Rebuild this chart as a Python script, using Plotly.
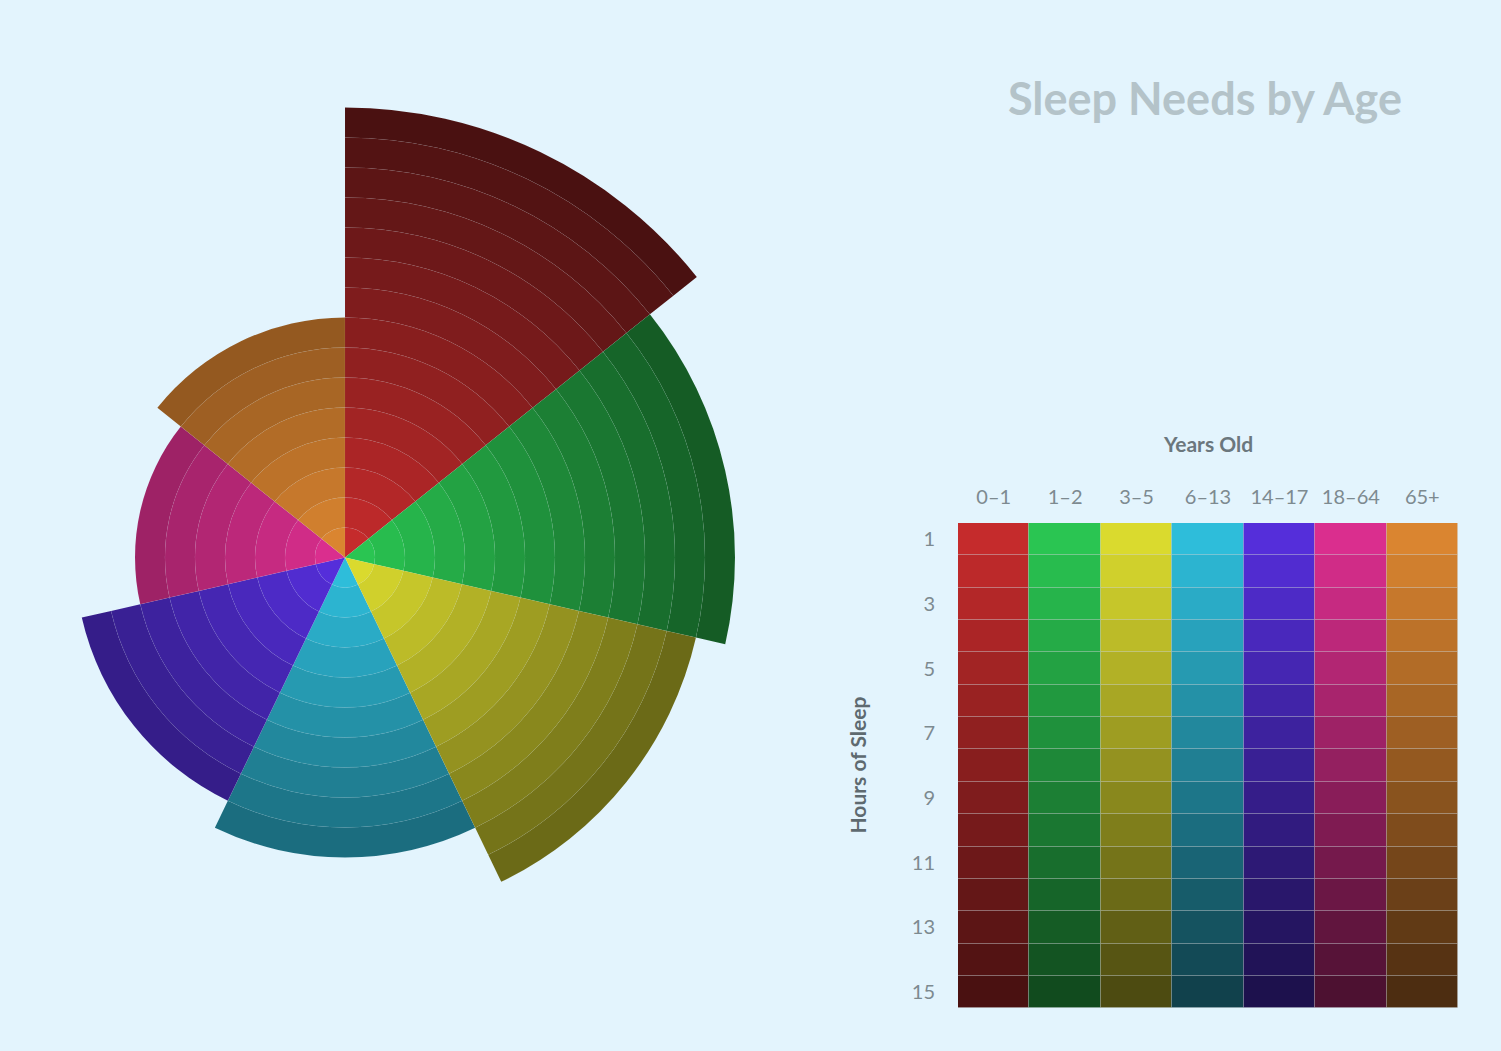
import plotly.graph_objects as go

# ---- data ----
age_groups = ["0–1", "1–2", "3–5", "6–13", "14–17", "18–64", "65+"]
sleep_hours = [15, 13, 12, 10, 9, 7, 8]
hours = list(range(1, 16))
hour_ticks = [1, 3, 5, 7, 9, 11, 13, 15]

# ---- styling ----
light_colors = ["#C52B2C", "#2AC552", "#DADA2E", "#2EBDDA", "#552EDA", "#DA2E8E", "#DA8530"]
dark_colors = ["#4A1111", "#114B1E", "#4D4B11", "#11414C", "#1D114D", "#4D1131", "#4D2D11"]
BG = "#E3F4FD"
FONT = "Lato"
RING_LINE = dict(color="rgba(255,255,255,0.08)", width=0.5)
CELL_LINE = dict(color="rgba(200,200,200,0.22)", width=1)


def hex2rgb(h):
    h = h.lstrip("#")
    return [int(h[i:i + 2], 16) for i in (0, 2, 4)]


def shade(i, h):
    a = hex2rgb(light_colors[i])
    b = hex2rgb(dark_colors[i])
    t = (h - 1) / (len(hours) - 1)
    c = [round(a[k] + (b[k] - a[k]) * t) for k in range(3)]
    return "rgb({},{},{})".format(*c)


# geometry (pixels)
W, H = 1501, 1051
cx, cy = 345, 557.5
px_per_hour = 30
small_r = 345                       # full-circle polar radius
small_max = small_r / px_per_hour   # 11.5 hours
big_max = 15.3
big_r = big_max * px_per_hour       # sector polar radius

# the sector polar holds the long wedges (they need more room than the full circle allows)
sector = [-70, 95]
import math
bx0 = min(0, math.cos(math.radians(sector[1])))
by0 = min(0, math.sin(math.radians(sector[0])))
big_dom_x = [(cx + bx0 * big_r) / W, (cx + big_r) / W]
big_dom_y = [1 - (cy - by0 * big_r) / H, 1 - (cy - big_r) / H]
small_dom_x = [(cx - small_r) / W, (cx + small_r) / W]
small_dom_y = [1 - (cy + small_r) / H, 1 - (cy - small_r) / H]

fig = go.Figure()

for h in hours:
    colors = [shade(i, h) for i in range(len(age_groups))]
    fig.add_trace(go.Barpolar(
        r=[1 if (h <= v and v <= small_max) else 0 for v in sleep_hours],
        theta=age_groups, subplot="polar",
        marker=dict(color=colors, line=RING_LINE),
        showlegend=False,
        hovertemplate="%{theta}: hour " + str(h) + "<extra></extra>",
    ))
    fig.add_trace(go.Barpolar(
        r=[1 if (h <= v and v > small_max) else 0 for v in sleep_hours],
        theta=age_groups, subplot="polar2",
        marker=dict(color=colors, line=RING_LINE),
        showlegend=False,
        hovertemplate="%{theta}: hour " + str(h) + "<extra></extra>",
    ))

# colour grid
for h in hours:
    fig.add_trace(go.Bar(
        x=age_groups, y=[1] * len(age_groups), base=[h - 0.5] * len(age_groups),
        marker=dict(color=[shade(i, h) for i in range(len(age_groups))], line=CELL_LINE),
        showlegend=False,
        hovertemplate="%{x}: hour " + str(h) + "<extra></extra>",
    ))

ang = dict(direction="clockwise", rotation=90 - 360 / 14, visible=False,
           categoryorder="array", categoryarray=age_groups)

fig.update_layout(
    width=W, height=H, margin=dict(l=0, r=0, t=0, b=0),
    paper_bgcolor=BG, plot_bgcolor="rgba(0,0,0,0)",
    font=dict(family=FONT, color="#7D8A90"),
    barmode="overlay", bargap=0,
    polar=dict(
        domain=dict(x=small_dom_x, y=small_dom_y),
        bgcolor="rgba(0,0,0,0)", barmode="stack", bargap=0,
        angularaxis=ang,
        radialaxis=dict(range=[0, small_max], visible=False),
    ),
    polar2=dict(
        domain=dict(x=big_dom_x, y=big_dom_y), sector=sector,
        bgcolor="rgba(0,0,0,0)", barmode="stack", bargap=0,
        angularaxis=ang,
        radialaxis=dict(range=[0, big_max], visible=False),
    ),
    xaxis=dict(domain=[958 / W, 1458 / W], side="top", range=[-0.5, 6.5],
               showgrid=False, zeroline=False, showline=False, ticks="",
               tickfont=dict(size=20, color="#7D8A90"), ticklabelstandoff=14,
               fixedrange=True),
    yaxis=dict(domain=[1 - 1008.3 / H, 1 - 523 / H], range=[15.5, 0.5],
               tickvals=hour_ticks, showgrid=False, zeroline=False, showline=False,
               ticks="", tickfont=dict(size=20, color="#7D8A90"), ticklabelstandoff=22,
               fixedrange=True),
    annotations=[
        dict(text="Sleep Needs by Age", x=1205 / W, y=1 - 98 / H, xref="paper", yref="paper",
             xanchor="center", yanchor="middle", showarrow=False,
             font=dict(family=FONT, size=45, color="#B4C3C9", weight="bold")),
        dict(text="Years Old", x=1208 / W, y=1 - 443 / H, xref="paper", yref="paper",
             xanchor="center", yanchor="middle", showarrow=False,
             font=dict(family=FONT, size=21, color="#6B777D", weight="bold")),
        dict(text="Hours of Sleep", x=857 / W, y=1 - 765.5 / H, xref="paper", yref="paper",
             xanchor="center", yanchor="middle", showarrow=False, textangle=-90,
             font=dict(family=FONT, size=21, color="#5E6A70", weight="bold")),
    ],
)

fig.write_html("out.html")
